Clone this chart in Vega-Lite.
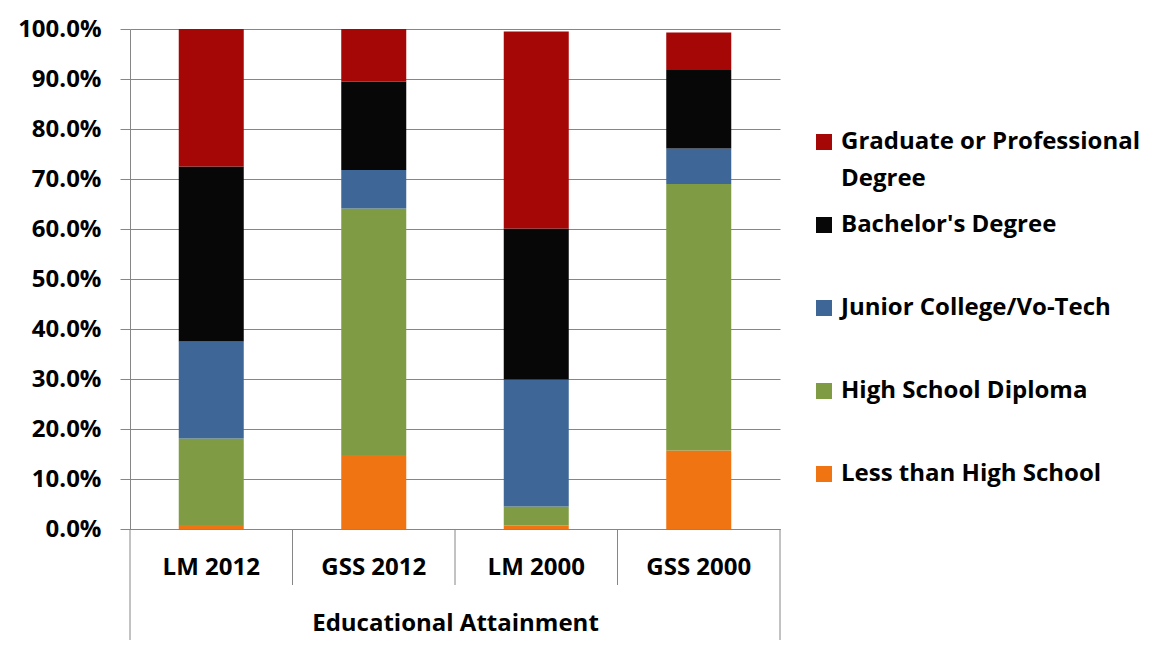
{
  "$schema": "https://vega.github.io/schema/vega-lite/v6.json",
  "width": 650,
  "height": 500,
  "autosize": "none",
  "padding": {"left": 130, "top": 29, "right": 383, "bottom": 122},
  "background": "white",
  "config": {"view": {"stroke": null}, "font": "Open Sans", "style": {"guide-label": {"lineHeight": 37}}},
  "datasets": {
    "edu": [
      {"group": "LM 2012", "level": "Less than High School", "rank": 1, "share": 0.008},
      {"group": "LM 2012", "level": "High School Diploma", "rank": 2, "share": 0.173},
      {"group": "LM 2012", "level": "Junior College/Vo-Tech", "rank": 3, "share": 0.194},
      {"group": "LM 2012", "level": "Bachelor's Degree", "rank": 4, "share": 0.350},
      {"group": "LM 2012", "level": "Graduate or Professional Degree", "rank": 5, "share": 0.275},
      {"group": "GSS 2012", "level": "Less than High School", "rank": 1, "share": 0.148},
      {"group": "GSS 2012", "level": "High School Diploma", "rank": 2, "share": 0.493},
      {"group": "GSS 2012", "level": "Junior College/Vo-Tech", "rank": 3, "share": 0.077},
      {"group": "GSS 2012", "level": "Bachelor's Degree", "rank": 4, "share": 0.177},
      {"group": "GSS 2012", "level": "Graduate or Professional Degree", "rank": 5, "share": 0.105},
      {"group": "LM 2000", "level": "Less than High School", "rank": 1, "share": 0.007},
      {"group": "LM 2000", "level": "High School Diploma", "rank": 2, "share": 0.038},
      {"group": "LM 2000", "level": "Junior College/Vo-Tech", "rank": 3, "share": 0.254},
      {"group": "LM 2000", "level": "Bachelor's Degree", "rank": 4, "share": 0.302},
      {"group": "LM 2000", "level": "Graduate or Professional Degree", "rank": 5, "share": 0.394},
      {"group": "GSS 2000", "level": "Less than High School", "rank": 1, "share": 0.157},
      {"group": "GSS 2000", "level": "High School Diploma", "rank": 2, "share": 0.533},
      {"group": "GSS 2000", "level": "Junior College/Vo-Tech", "rank": 3, "share": 0.071},
      {"group": "GSS 2000", "level": "Bachelor's Degree", "rank": 4, "share": 0.157},
      {"group": "GSS 2000", "level": "Graduate or Professional Degree", "rank": 5, "share": 0.075}
    ],
    "seps": [
      {"group": "LM 2012", "top": 0, "bottom": -0.222},
      {"group": "GSS 2012", "top": 0, "bottom": -0.112},
      {"group": "LM 2000", "top": 0, "bottom": -0.112},
      {"group": "GSS 2000", "top": 0, "bottom": -0.112}
    ],
    "endsep": [
      {"group": "GSS 2000", "top": 0, "bottom": -0.222}
    ]
  },
  "layer": [
    {
      "data": {"name": "edu"},
      "mark": {"type": "bar", "width": {"band": 0.4}},
      "encoding": {
        "x": {
          "field": "group",
          "type": "nominal",
          "scale": {"domain": ["LM 2012", "GSS 2012", "LM 2000", "GSS 2000"], "paddingInner": 0, "paddingOuter": 0},
          "axis": {
            "title": "Educational Attainment",
            "titleFontSize": 24,
            "titleFontWeight": "bold",
            "titleColor": "black",
            "titlePadding": 32,
            "titleFont": "Open Sans",
            "labelFont": "Open Sans",
            "labelFontSize": 24,
            "labelFontWeight": "bold",
            "labelColor": "black",
            "labelPadding": 26,
            "labelAngle": 0,
            "ticks": false,
            "tickSize": 0,
            "domainColor": "#868686",
            "grid": false
          }
        },
        "y": {
          "field": "share",
          "type": "quantitative",
          "stack": "zero",
          "scale": {"domain": [0, 1]},
          "axis": {
            "title": null,
            "format": ".1%",
            "values": [0, 0.1, 0.2, 0.3, 0.4, 0.5, 0.6, 0.7, 0.8, 0.9, 1.0],
            "labelFont": "Open Sans",
            "labelFontSize": 24,
            "labelFontWeight": "bold",
            "labelColor": "black",
            "labelPadding": 19,
            "tickSize": 10,
            "tickColor": "#868686",
            "domainColor": "#868686",
            "grid": true,
            "gridColor": "#868686"
          }
        },
        "color": {
          "field": "level",
          "type": "nominal",
          "scale": {
            "domain": ["Graduate or Professional Degree", "Bachelor's Degree", "Junior College/Vo-Tech", "High School Diploma", "Less than High School"],
            "range": ["#A50606", "#070707", "#3E6797", "#7F9C44", "#F07512"]
          },
          "legend": {
            "orient": "none",
            "legendX": 682,
            "legendY": 101,
            "title": null,
            "padding": 0,
            "symbolType": "square",
            "symbolSize": 256,
            "symbolStrokeWidth": 0,
            "labelFont": "Open Sans",
            "labelFontSize": 24,
            "labelFontWeight": "bold",
            "labelColor": "black",
            "labelOffset": 5,
            "labelLimit": 400,
            "rowPadding": 22,
            "gridAlign": "all",
            "labelExpr": "datum.label == 'Graduate or Professional Degree' ? ['Graduate or Professional', 'Degree'] : datum.label"
          }
        },
        "order": {"field": "rank", "type": "quantitative"}
      }
    },
    {
      "data": {"name": "seps"},
      "mark": {"type": "rule", "color": "#868686", "clip": false},
      "encoding": {
        "x": {"field": "group", "type": "nominal", "bandPosition": 0},
        "y": {"field": "top", "type": "quantitative"},
        "y2": {"field": "bottom"}
      }
    },
    {
      "data": {"name": "endsep"},
      "mark": {"type": "rule", "color": "#868686", "clip": false},
      "encoding": {
        "x": {"field": "group", "type": "nominal", "bandPosition": 1},
        "y": {"field": "top", "type": "quantitative"},
        "y2": {"field": "bottom"}
      }
    }
  ]
}
